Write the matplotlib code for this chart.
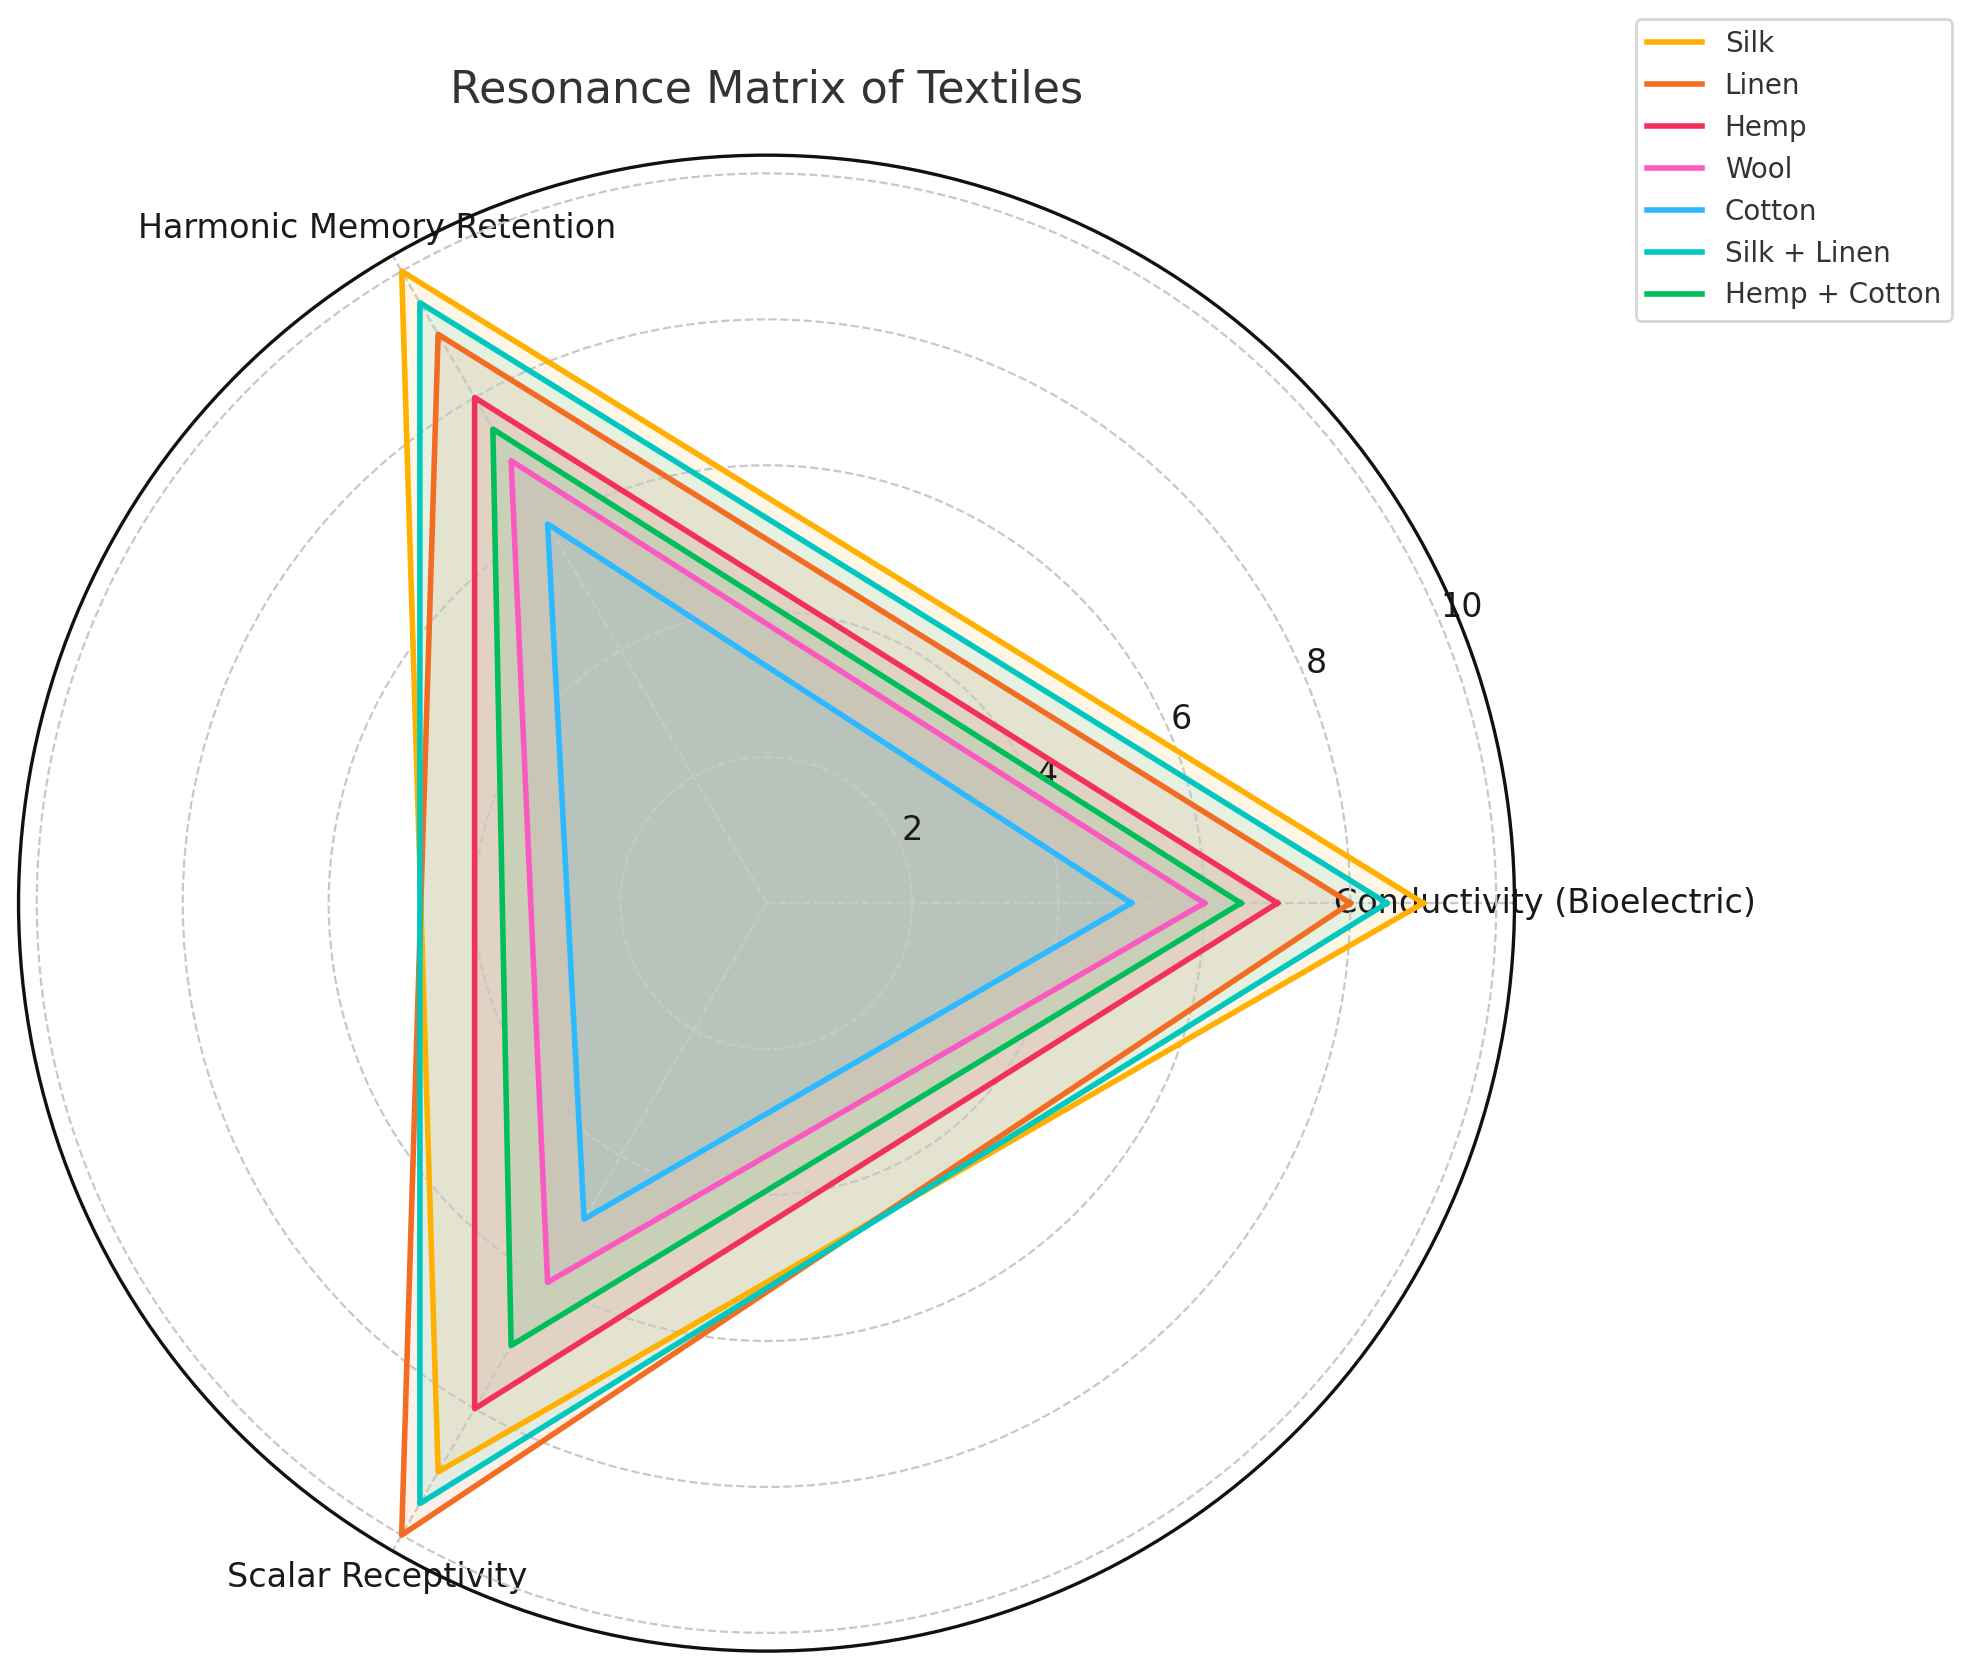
import numpy as np
import matplotlib
matplotlib.use("Agg")
import matplotlib.pyplot as plt

categories = ["Conductivity (Bioelectric)", "Harmonic Memory Retention", "Scalar Receptivity"]
series_names = ["Silk", "Linen", "Hemp", "Wool", "Cotton", "Silk + Linen", "Hemp + Cotton"]
silk = [9, 10, 9]
linen = [8, 9, 10]
hemp = [7, 8, 8]
wool = [6, 7, 6]
cotton = [5, 6, 5]
silk_linen = [8.5, 9.5, 9.5]
hemp_cotton = [6.5, 7.5, 7]
series_values = [silk, linen, hemp, wool, cotton, silk_linen, hemp_cotton]
colors = ["#FFB000", "#F26C23", "#F2305A", "#FA5AC0", "#2CB9FF", "#00C8BE", "#00BF5A"]
rticks = [2, 4, 6, 8, 10]

fig = plt.figure(figsize=(9.86, 8.36), dpi=200)
ax = fig.add_axes([0.0094, 0.0125, 0.7586, 0.8947], projection="polar")

n = len(categories)
angles = np.linspace(0, 2 * np.pi, n, endpoint=False).tolist()
angles_closed = angles + angles[:1]

for name, vals, c in zip(series_names, series_values, colors):
    v = list(vals) + vals[:1]
    ax.plot(angles_closed, v, color=c, linewidth=2, label=name)
    ax.fill(angles_closed, v, color=c, alpha=0.1)

ax.set_ylim(0, 10.25)
ax.set_yticks(rticks)
ax.set_yticklabels([str(t) for t in rticks], fontsize=12, color="#1a1a1a")
ax.set_xticks(angles)
ax.set_xticklabels(categories, fontsize=12, color="#1a1a1a")
ax.tick_params(axis="x", pad=0.5)
ax.grid(True, color="#c8c8c8", linestyle="--", linewidth=0.8)
ax.spines["polar"].set_color("#111111")
ax.spines["polar"].set_linewidth(1.2)

ax.set_title("Resonance Matrix of Textiles", fontsize=16, color="#333333", pad=19)

leg = fig.legend(loc="upper right", bbox_to_anchor=(1952 / 1972, 1 - 19 / 1672),
                 borderaxespad=0, fontsize=10, frameon=True)
for t in leg.get_texts():
    t.set_color("#333333")

fig.savefig("out.png", dpi=200)
